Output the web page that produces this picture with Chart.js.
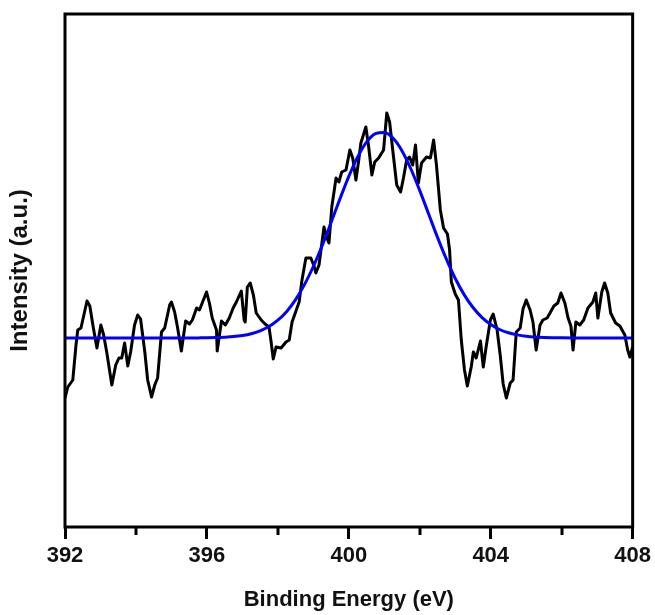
<!DOCTYPE html>
<html>
<head>
<meta charset="utf-8">
<script src="https://cdn.jsdelivr.net/npm/chart.js@4/dist/chart.umd.min.js"></script>
<style>
  html, body { margin: 0; padding: 0; background: #fff; }
  #wrap { width: 655px; height: 615px; }
</style>
</head>
<body>
<div id="wrap"><canvas id="c" width="655" height="615"></canvas></div>
<script>
// Binding energy (eV) of the measured spectrum
const energyRaw = [
  392.00,392.08,392.22,392.31,392.36,392.45,392.62,392.70,392.79,392.90,
  393.01,393.09,393.18,393.32,393.43,393.52,393.60,393.68,393.77,393.85,
  393.96,394.05,394.13,394.25,394.33,394.44,394.53,394.61,394.72,394.81,
  394.95,395.00,395.09,395.17,395.28,395.40,395.51,395.59,395.71,395.79,
  395.99,396.07,396.15,396.27,396.29,396.41,396.52,396.63,396.74,396.83,
  396.97,397.05,397.08,397.14,397.22,397.31,397.39,397.53,397.64,397.75,
  397.81,397.87,397.95,398.09,398.23,398.32,398.40,398.48,398.60,398.68,
  398.79,398.93,399.02,399.07,399.16,399.30,399.38,399.44,399.52,399.64,
  399.72,399.80,399.92,400.03,400.11,400.20,400.28,400.34,400.48,400.56,
  400.65,400.73,400.84,400.98,401.07,401.15,401.26,401.35,401.46,401.54,
  401.63,401.71,401.80,401.88,401.96,402.05,402.19,402.30,402.39,402.47,
  402.58,402.67,402.78,402.84,402.89,403.00,403.09,403.17,403.26,403.34,
  403.45,403.51,403.59,403.71,403.79,403.87,403.99,404.07,404.18,404.27,
  404.35,404.44,404.55,404.63,404.72,404.83,404.91,405.00,405.11,405.19,
  405.28,405.39,405.47,405.59,405.67,405.78,405.89,405.98,406.09,406.18,
  406.26,406.32,406.40,406.51,406.62,406.74,406.88,406.96,407.02,407.13,
  407.21,407.30,407.38,407.52,407.64,407.78,407.86,407.92,408.00
];
// Measured intensity (a.u.)
const intensityRaw = [
  129,140,147,182,197,199,226,221,201,179,
  202,192,174,142,162,169,169,184,161,175,
  202,212,208,175,147,130,142,149,195,199,
  222,225,215,200,176,206,203,207,219,217,
  235,224,209,197,176,206,202,209,219,225,
  236,207,205,240,244,232,214,207,203,200,
  185,168,180,179,185,187,205,213,225,247,
  269,269,261,254,262,300,289,284,320,349,
  345,355,357,377,369,347,367,384,400,380,
  352,365,369,377,414,405,370,342,335,349,
  367,370,362,382,344,364,370,369,387,362,
  317,299,293,277,245,233,227,187,157,141,
  160,175,169,186,160,180,207,213,197,171,
  143,129,144,147,195,199,218,227,217,205,
  177,202,207,209,214,221,224,234,224,209,
  201,177,205,202,207,219,225,234,209,235,
  244,234,214,204,201,192,177,170,180
];
// Fitted peak (blue)
const energyFit = [
  392,393,394,395,395.5,395.75,
  396,396.25,396.5,396.75,397,397.25,397.5,397.75,398,398.25,
  398.5,398.75,399,399.25,399.5,399.75,400,400.25,400.5,400.75,
  401,401.25,401.5,401.75,402,402.25,402.5,402.75,403,403.25,
  403.5,403.75,404,404.25,404.5,404.75,405,405.25,405.5,405.75,
  406,406.5,407,408
];
const intensityFit = [
  189,189,189,189,189,189.1,
  189.2,189.4,189.8,190.4,191.5,193.3,196.2,200.5,206.8,215.6,
  227.4,242.4,260.5,281.5,304.5,328.1,350.6,370.1,384.8,393.3,
  394.6,388.7,376.1,358.0,336.4,313.0,289.6,267.8,248.5,232.4,
  219.5,209.7,202.5,197.5,194.2,192.1,190.7,189.9,189.5,189.3,
  189.2,189.1,189,189
];
const xMin = 392, xMax = 408;
const majorTicks = [392, 396, 400, 404, 408];
const minorTicks = [394, 398, 402, 406];
const xTitle = 'Binding Energy (eV)';
const yTitle = 'Intensity (a.u.)';

const toPts = (xs, ys) => xs.map((x, i) => ({x: x, y: ys[i]}));

const frame = {
  id: 'frame',
  afterDraw(chart) {
    const {ctx, chartArea: a, scales} = chart;
    ctx.save();
    ctx.strokeStyle = '#000';
    ctx.lineWidth = 3;
    ctx.strokeRect(a.left, a.top, a.right - a.left, a.bottom - a.top);
    ctx.beginPath();
    minorTicks.forEach(v => {
      const px = Math.round(scales.x.getPixelForValue(v));
      ctx.moveTo(px, a.bottom);
      ctx.lineTo(px, a.bottom + 8);
    });
    ctx.stroke();
    ctx.restore();
  }
};

const font = {family: "'Liberation Sans', Arial, sans-serif", size: 22, weight: 'bold'};
const yFont = {family: "'Liberation Sans', Arial, sans-serif", size: 24, weight: 'bold'};

new Chart(document.getElementById('c'), {
  type: 'line',
  data: {
    datasets: [
      {
        data: toPts(energyFit, intensityFit),
        borderColor: '#0000ff',
        borderWidth: 3,
        pointRadius: 0,
        cubicInterpolationMode: 'monotone',
        order: 0
      },
      {
        data: toPts(energyRaw, intensityRaw),
        borderColor: '#000',
        borderWidth: 3,
        pointRadius: 0,
        tension: 0,
        borderJoinStyle: 'round',
        order: 1
      }
    ]
  },
  options: {
    responsive: false,
    animation: false,
    events: [],
    layout: {padding: {left: 0, right: 20, top: 14, bottom: 0}},
    plugins: {legend: {display: false}, tooltip: {enabled: false}},
    scales: {
      x: {
        type: 'linear',
        min: xMin, max: xMax,
        afterBuildTicks: (s) => { s.ticks = majorTicks.map(v => ({value: v})); },
        afterFit: (s) => { s.height = 88; },
        ticks: {color: '#111', font: font, padding: 4, maxRotation: 0, autoSkip: false},
        grid: {display: true, drawOnChartArea: false, tickLength: 12, tickWidth: 3, tickColor: '#000'},
        border: {display: false},
        title: {display: true, text: xTitle, color: '#111', font: font, padding: {top: 0, bottom: 2}}
      },
      y: {
        min: 0, max: 513,
        afterFit: (s) => { s.width = 65; },
        ticks: {display: false},
        grid: {display: false},
        border: {display: false},
        title: {display: true, text: yTitle, color: '#111', font: yFont, padding: {top: 6, bottom: 0}}
      }
    }
  },
  plugins: [frame]
});
</script>
</body>
</html>
